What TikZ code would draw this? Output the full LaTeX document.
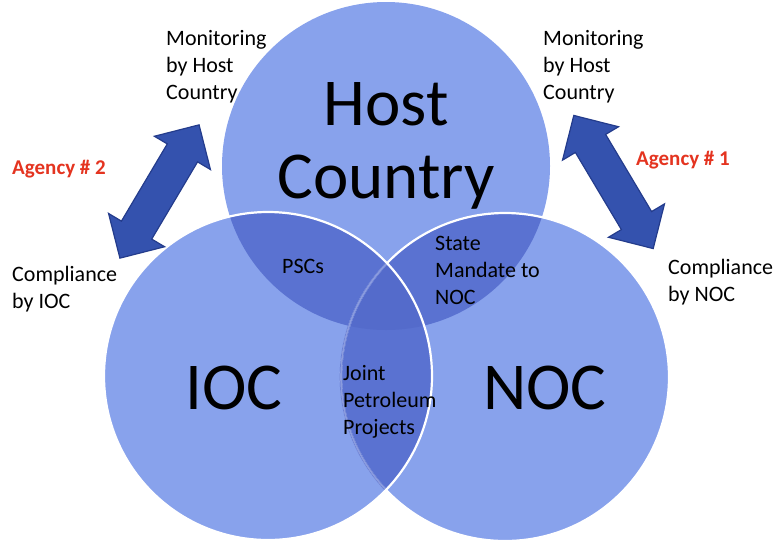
\documentclass[tikz,border=0pt]{standalone}
\usepackage{fontspec}
\setmainfont{Carlito}
\usetikzlibrary{shapes.arrows}

\definecolor{discfill}{RGB}{136,162,236}
\definecolor{lapfill}{RGB}{90,114,209}
\definecolor{tripfill}{RGB}{84,107,203}
\definecolor{arrowfill}{RGB}{52,82,174}
\definecolor{arrowline}{RGB}{36,60,140}
\definecolor{agencyred}{RGB}{228,52,32}

\tikzset{
  disc/.style={fill=discfill},
  lap/.style={fill=lapfill},
  rim/.style={draw=white, line width=2.2pt},
  lbl/.style={anchor=base west, inner sep=0pt, align=left,
              font=\fontsize{22}{27}\selectfont, text=black},
  agency/.style={anchor=base west, inner sep=0pt,
              font=\fontsize{21}{25}\selectfont\bfseries, text=agencyred},
  big/.style={anchor=base, inner sep=0pt, align=center,
              font=\fontsize{67}{73}\selectfont, text=black},
  twoway/.style={double arrow, double arrow tip angle=90,
              double arrow head extend=15pt, minimum height=155pt,
              inner sep=0pt, text height=0pt, text depth=0pt,
              inner ysep=17pt, inner xsep=0pt,
              fill=arrowfill, draw=arrowline, line width=1.2pt}
}

\begin{document}
\begin{tikzpicture}[x=1pt, y=-1pt]
\useasboundingbox (0,0) rectangle (779,539);

% circle centres
\coordinate (hc) at (386,166);
\coordinate (ic) at (268,376);
\coordinate (nc) at (505,377);
\def\rad{164}

% discs
\fill[disc] (hc) circle (\rad);
\fill[disc] (nc) circle (\rad);
\fill[disc] (ic) circle (\rad);

% pairwise overlaps
\begin{scope}
  \clip (hc) circle (\rad);
  \fill[lap] (ic) circle (\rad);
  \fill[lap] (nc) circle (\rad);
\end{scope}
\begin{scope}
  \clip (ic) circle (\rad);
  \fill[lap] (nc) circle (\rad);
\end{scope}
% centre overlap of all three
\begin{scope}
  \clip (hc) circle (\rad);
  \clip (ic) circle (\rad);
  \fill[fill=tripfill] (nc) circle (\rad);
\end{scope}

% white rims: NOC rim fades where it runs under the IOC disc
\draw[rim] (nc) circle (\rad);
\begin{scope}
  \clip (ic) circle (\rad);
  \draw[draw=lapfill, line width=2.6pt] (nc) circle (\rad);
  \draw[draw=white, draw opacity=0.3, line width=1.6pt] (nc) circle (\rad);
\end{scope}
\draw[rim] (ic) circle (\rad);

% circle titles (multi-line nodes are placed by their last baseline)
\node[big] (host) at (386,198) {Host\\Country};
\node[big] (ioc) at (234,409) {IOC};
\node[big] (noc) at (545,409) {NOC};

% overlap labels
\node[lbl] (pscs) at (282,273) {PSCs};
\node[lbl] (mandate) at (435,304) {State\\Mandate to\\NOC};
\node[lbl] (joint) at (343,434) {Joint\\Petroleum\\Projects};

% side labels
\node[lbl] (monl) at (166,99) {Monitoring\\by Host\\Country};
\node[lbl] (monr) at (543,99) {Monitoring\\by Host\\Country};
\node[lbl] (compl) at (12,308) {Compliance\\by IOC};
\node[lbl] (compr) at (668,301) {Compliance\\by NOC};
\node[agency] (ag2) at (12,174) {Agency \# 2};
\node[agency] (ag1) at (636,165) {Agency \# 1};

% two-way arrows
\node[twoway, rotate=59.3] (arrl) at (159.5,191.5) {};
\node[twoway, rotate=-59.2] (arrr) at (613.5,182) {};
\end{tikzpicture}
\end{document}
